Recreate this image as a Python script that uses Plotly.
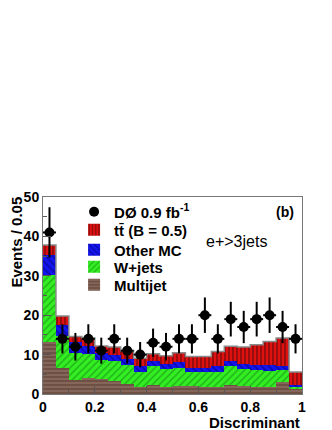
import plotly.graph_objects as go

# -------------------------------
# data
# -------------------------------
bin_centers = [0.025, 0.075, 0.125, 0.175, 0.225, 0.275, 0.325, 0.375, 0.425, 0.475,
               0.525, 0.575, 0.625, 0.675, 0.725, 0.775, 0.825, 0.875, 0.925, 0.975]
bin_edges = [i * 0.05 for i in range(21)]

multijet = [13.3, 6.7, 3.6, 4.0, 3.8, 3.4, 2.5, 1.7, 2.4, 1.9,
            2.0, 2.0, 1.9, 1.7, 2.4, 2.1, 1.9, 1.9, 3.0, 1.3]
wjets = [16.9, 7.9, 6.9, 6.2, 4.9, 5.0, 4.9, 3.9, 4.6, 4.4,
         4.7, 3.5, 3.6, 4.0, 4.8, 4.2, 4.1, 4.0, 3.0, 0.6]
other_mc = [5.2, 2.9, 2.7, 1.9, 1.8, 1.5, 1.5, 1.4, 1.3, 1.3,
            1.4, 1.2, 1.2, 1.5, 1.1, 1.4, 1.4, 1.5, 1.2, 0.3]
ttbar = [2.4, 2.3, 1.4, 2.1, 1.7, 2.0, 2.1, 2.1, 1.9, 2.1,
         2.4, 2.8, 2.8, 3.6, 3.8, 4.2, 5.1, 5.9, 7.0, 3.4]

data_counts = [41, 14, 12, 14, 11, 14, 11, 10, 13, 12,
               14, 14, 20, 14, 19, 17, 19, 20, 17, 14]
data_errors = [6.4, 3.7, 3.5, 3.7, 3.3, 3.7, 3.3, 3.2, 3.6, 3.5,
               3.7, 3.7, 4.5, 3.7, 4.4, 4.1, 4.4, 4.5, 4.1, 3.7]

FONT = "Liberation Sans"
LEG_FONT = dict(family=FONT, size=15, color="black", weight="bold")

# -------------------------------
# stacked histogram
# -------------------------------
fig = go.Figure()

# name, values, hatch, hatch colour, fill colour, hatch size, legend id
stack = [
    ("Multijet", multijet, "-", "#b99a8d", "#6e5044", 4, "legend5"),
    ("W+jets", wjets, "/", "#0f7a0f", "#33ee22", 5, "legend4"),
    ("Other MC", other_mc, "\\", "#000060", "#1414ee", 5, "legend3"),
    ("tt\u0304 (B = 0.5)", ttbar, "|", "#000000", "#dd1111", 4, "legend2"),
]
for name, vals, shape, fg, bg, size, leg in stack:
    fig.add_trace(go.Bar(
        x=bin_centers, y=vals, width=0.05, name=name, legend=leg,
        marker=dict(color=bg, line=dict(width=0),
                    pattern=dict(shape=shape, fgcolor=fg, bgcolor=bg,
                                 size=size, solidity=0.3)),
    ))

# grey outline on top of the stack
totals = [a + b + c + d for a, b, c, d in zip(multijet, wjets, other_mc, ttbar)]
fig.add_trace(go.Scatter(
    x=bin_edges, y=totals + [totals[-1]], mode="lines", line_shape="hv",
    line=dict(color="#8a8a8a", width=1.5), showlegend=False, hoverinfo="skip",
))

fig.add_trace(go.Scatter(
    x=bin_centers, y=data_counts, mode="markers", name="DØ 0.9 fb<sup>-1</sup>",
    legend="legend",
    marker=dict(color="black", size=10),
    error_y=dict(type="data", array=data_errors, color="black", thickness=2, width=0),
    error_x=dict(type="constant", value=0.025, color="black", thickness=2, width=0),
))

axis_common = dict(
    showline=True, linecolor="#777", linewidth=1, mirror=True,
    ticks="inside", tickcolor="#555", ticklen=8, showgrid=False, zeroline=False,
    tickfont=dict(family=FONT, size=14, color="black", weight="bold"),
)
fig.update_xaxes(range=[0, 1], tickvals=[0, 0.2, 0.4, 0.6, 0.8, 1],
                 ticktext=["0", "0.2", "0.4", "0.6", "0.8", "1"],
                 minor=dict(dtick=0.1, ticks="inside", ticklen=4, tickcolor="#555"),
                 **axis_common)
fig.update_yaxes(range=[0, 50], dtick=10,
                 minor=dict(dtick=5, ticks="inside", ticklen=4, tickcolor="#555"),
                 **axis_common)

fig.add_annotation(text="Events / 0.05", textangle=-90, xref="paper", yref="paper",
                   x=-0.104, y=1.01, xanchor="center", yanchor="top", showarrow=False,
                   font=dict(family=FONT, size=15, color="black", weight="bold"))
fig.add_annotation(text="Discriminant", xref="paper", yref="paper",
                   x=1.0, y=-0.145, xanchor="right", yanchor="middle", showarrow=False,
                   font=dict(family=FONT, size=15, color="black", weight="bold"))
fig.add_annotation(text="(b)", xref="paper", yref="paper",
                   x=0.975, y=0.925, xanchor="right", yanchor="middle", showarrow=False,
                   font=dict(family=FONT, size=14, color="black", weight="bold"))
fig.add_annotation(text="e+>3jets", xref="paper", yref="paper",
                   x=0.62, y=0.775, xanchor="left", yanchor="middle", showarrow=False,
                   font=dict(family=FONT, size=16, color="black"))

# one legend per row so the rows sit as tight as in the reference
legend_rows = {"legend": 0.924, "legend2": 0.832, "legend3": 0.731,
               "legend4": 0.645, "legend5": 0.553}
legends = {k: dict(x=0.12, y=v, xanchor="left", yanchor="middle",
                   bgcolor="rgba(0,0,0,0)", font=LEG_FONT)
           for k, v in legend_rows.items()}

# the page has an 8px body margin, so the figure is 8px smaller each way
fig.update_layout(
    width=324, height=422,
    margin=dict(l=35, r=30, t=189, b=36, autoexpand=False),
    barmode="stack", bargap=0,
    paper_bgcolor="white", plot_bgcolor="white",
    showlegend=True,
    **legends,
)

fig.write_html("out.html")
